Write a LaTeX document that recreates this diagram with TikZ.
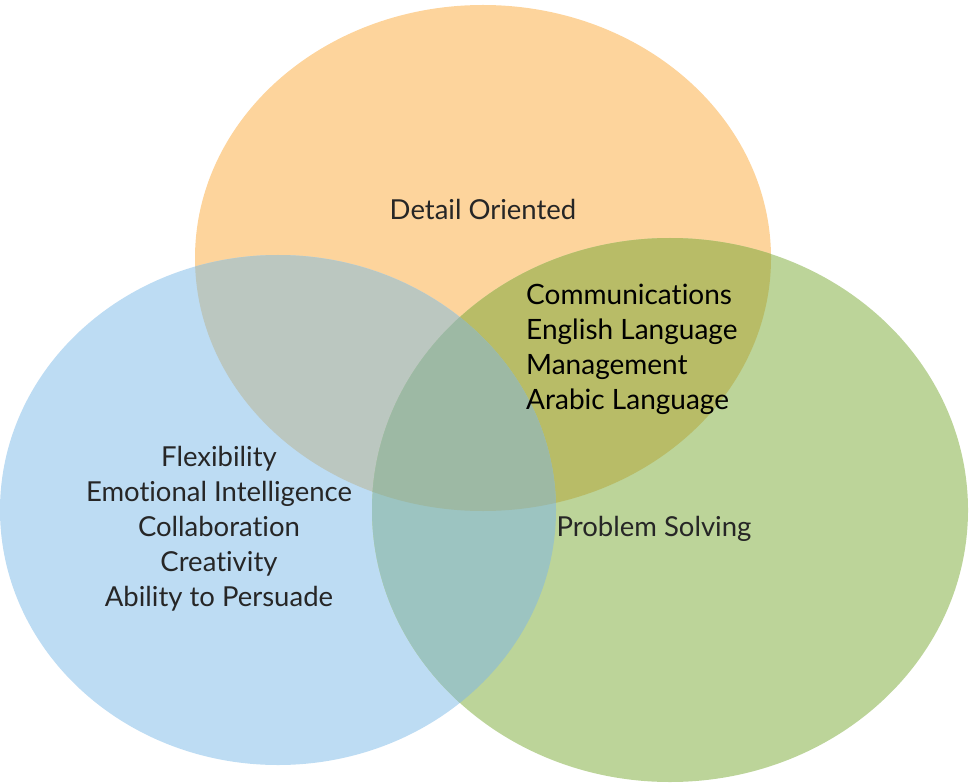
\documentclass[tikz,border=0pt]{standalone}
\usepackage{fontspec}
\setmainfont{Lato}[Ligatures={NoCommon}]
\begin{document}
\begin{tikzpicture}[x=1pt,y=-1pt,
  lbl/.style={inner sep=0pt, text=black!85, font=\fontsize{27.5}{35}\selectfont, align=center},
  lblb/.style={inner sep=0pt, text=black, font=\fontsize{28}{35}\selectfont, align=left}]
\definecolor{cO}{HTML}{FDD49C}
\definecolor{cB}{HTML}{BDDCF3}
\definecolor{cG}{HTML}{BCD499}
\definecolor{cOB}{HTML}{BBC7C0}
\definecolor{cOG}{HTML}{B8BC67}
\definecolor{cBG}{HTML}{9CC4C1}
\definecolor{cOBG}{HTML}{9DB9A4}
\useasboundingbox (0,0) rectangle (973,783);
\def\pO{(483,258) ellipse [x radius=288pt, y radius=253pt]}
\def\pB{(278,510) ellipse [x radius=278pt, y radius=255pt]}
\def\pG{(670,510) ellipse [x radius=298pt, y radius=272pt]}
\fill[cO] \pO;
\fill[cB] \pB;
\fill[cG] \pG;
\begin{scope}\clip \pO; \fill[cOB] \pB; \end{scope}
\begin{scope}\clip \pO; \fill[cOG] \pG; \end{scope}
\begin{scope}\clip \pB; \fill[cBG] \pG; \end{scope}
\begin{scope}\clip \pO; \clip \pB; \fill[cOBG] \pG; \end{scope}
\node[lbl] (detail) at (483,209) {Detail Oriented};
\node[lblb, anchor=west] (core) at (526,349) {Communications\\English Language\\Management\\Arabic Language};
\node[lbl] (soft) at (219,529) {Flexibility\\Emotional Intelligence\\Collaboration\\Creativity\\Ability to Persuade};
\node[lbl] (problem) at (654,529) {Problem Solving};
\end{tikzpicture}
\end{document}
